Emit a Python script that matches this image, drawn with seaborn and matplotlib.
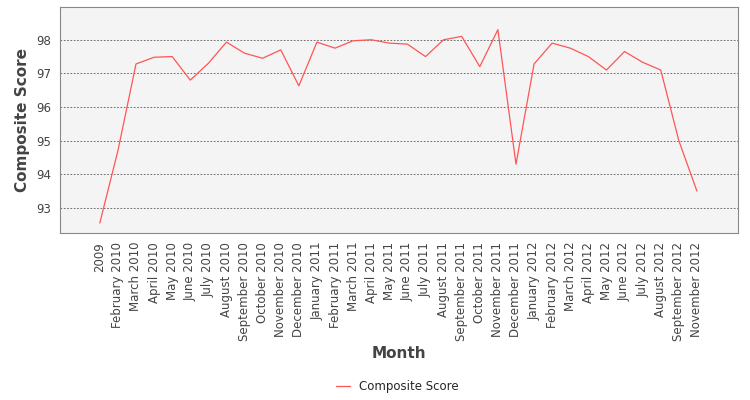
import numpy as np
import pandas as pd
import matplotlib
matplotlib.use("Agg")
import matplotlib.pyplot as plt
import seaborn as sns

months = ["2009", "February 2010", "March 2010", "April 2010", "May 2010", "June 2010",
          "July 2010", "August 2010", "September 2010", "October 2010", "November 2010",
          "December 2010", "January 2011", "February 2011", "March 2011", "April 2011",
          "May 2011", "June 2011", "July 2011", "August 2011", "September 2011",
          "October 2011", "November 2011", "December 2011", "January 2012",
          "February 2012", "March 2012", "April 2012", "May 2012", "June 2012",
          "July 2012", "August 2012", "September 2012", "November 2012"]
scores = [92.55, 94.7, 97.28, 97.48, 97.5, 96.8, 97.3, 97.93, 97.6, 97.45, 97.7,
          96.63, 97.93, 97.75, 97.97, 98.0, 97.9, 97.87, 97.5, 98.0, 98.1,
          97.2, 98.3, 94.3, 97.28, 97.9, 97.75, 97.5, 97.1, 97.65, 97.33,
          97.1, 95.0, 93.5]

df = pd.DataFrame({"idx": np.arange(len(months)), "Composite Score": scores})

sns.set_style("white")
fig = plt.figure(figsize=(7.5, 4), dpi=100)
ax = fig.add_axes([0.08, 0.418, 0.904, 0.565])
ax.set_facecolor("#f4f4f4")
sns.lineplot(data=df, x="idx", y="Composite Score", ax=ax, color="#ff5555",
             linewidth=0.9, label="Composite Score", legend=False)
ax.set_xlim(-2.2, 35.27)
ax.set_ylim(92.26, 98.98)
ax.set_yticks([93, 94, 95, 96, 97, 98])
ax.set_xticks(df["idx"])
ax.set_xticklabels(months, rotation=90, fontsize=8.5, color="#444444")
ax.tick_params(axis="y", labelsize=8.5, labelcolor="#444444", length=3)
ax.tick_params(axis="x", length=3)
ax.grid(axis="y", color="#555555", linestyle=(0, (2, 2)), linewidth=0.6)
for s in ax.spines.values():
    s.set_color("#888888")
    s.set_linewidth(0.8)
ax.set_xlabel("Month", fontsize=11, fontweight="bold", color="#444444")
ax.set_ylabel("Composite Score", fontsize=11, fontweight="bold", color="#444444")
handles, labels = ax.get_legend_handles_labels()
fig.legend(handles, labels, loc="center", bbox_to_anchor=(0.53, 0.033), frameon=False,
           fontsize=8.5, handlelength=1.2)
fig.savefig("out.png", dpi=100)
